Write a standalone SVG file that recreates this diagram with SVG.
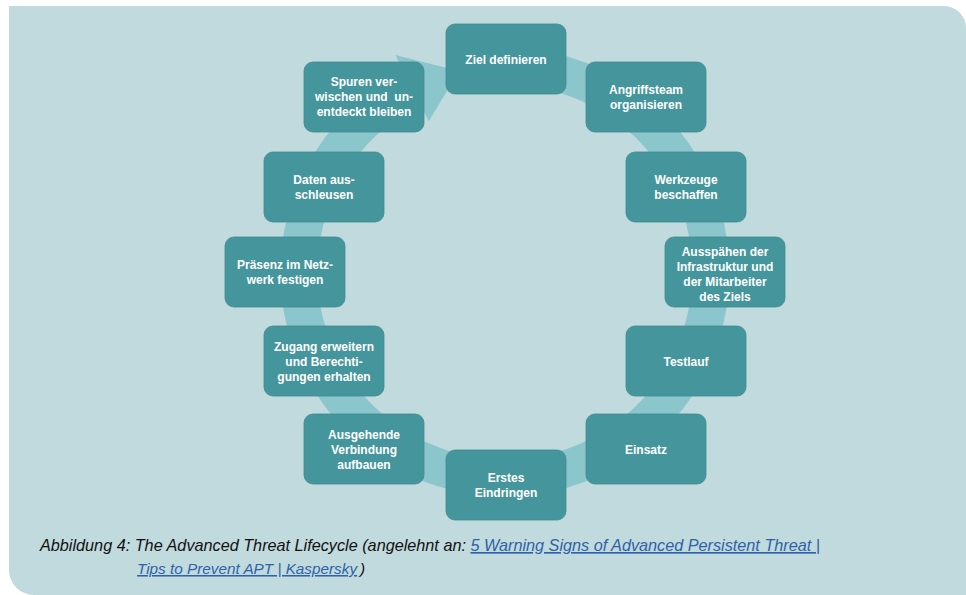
<svg xmlns="http://www.w3.org/2000/svg" width="966" height="595" viewBox="0 0 966 595">
  <defs>
    <style>
      .panel { fill: #c1dadd; }
      .ring { fill: none; stroke: #8cc6cd; stroke-width: 37; }
      .head { fill: #8cc6cd; }
      .box { fill: #45969c; stroke: #3f8a90; stroke-width: 0.8; }
      .lbl { font-family: "Liberation Sans", Arial, sans-serif; font-size: 12px; font-weight: bold; fill: #ffffff; text-anchor: middle; }
      .cap { font-family: "Liberation Sans", Arial, sans-serif; font-size: 16.5px; font-style: italic; fill: #111111; }
      .cap2 { font-size: 15.3px; }
      .link { fill: #2f62a8; text-decoration: underline; }
    </style>
  </defs>

  <!-- background panel -->
  <path class="panel" d="M9,6 H944 A22,22 0 0 1 966,28 V595 H34 A25,25 0 0 1 9,570 Z"/>

  <!-- cycle band with arrowhead -->
  <g id="connectors">
    <path class="ring" d="M487,66.8 A206,206 0 1 1 412.1,88.1"/>
    <polygon class="head" points="395.4,55.1 428.8,121.2 459,71"/>
  </g>

  <g id="n1">
    <rect class="box" x="446" y="24" width="120" height="70" rx="9"/>
    <text class="lbl" x="506" y="63.5">Ziel definieren</text>
  </g>
  <g id="n2">
    <rect class="box" x="586" y="62" width="120" height="70" rx="9"/>
    <text class="lbl" x="646" y="93.5">Angriffsteam</text>
    <text class="lbl" x="646" y="108.5">organisieren</text>
  </g>
  <g id="n3">
    <rect class="box" x="626" y="152" width="120" height="70" rx="9"/>
    <text class="lbl" x="686" y="183.5">Werkzeuge</text>
    <text class="lbl" x="686" y="198.5">beschaffen</text>
  </g>
  <g id="n4">
    <rect class="box" x="665" y="237" width="120" height="70" rx="9"/>
    <text class="lbl" x="725" y="255.5">Ausspähen der</text>
    <text class="lbl" x="725" y="270.5">Infrastruktur und</text>
    <text class="lbl" x="725" y="285.5">der Mitarbeiter</text>
    <text class="lbl" x="725" y="300.5">des Ziels</text>
  </g>
  <g id="n5">
    <rect class="box" x="626" y="326" width="120" height="70" rx="9"/>
    <text class="lbl" x="686" y="365.5">Testlauf</text>
  </g>
  <g id="n6">
    <rect class="box" x="586" y="414" width="120" height="70" rx="9"/>
    <text class="lbl" x="646" y="453.5">Einsatz</text>
  </g>
  <g id="n7">
    <rect class="box" x="446" y="450" width="120" height="70" rx="9"/>
    <text class="lbl" x="506" y="481.5">Erstes</text>
    <text class="lbl" x="506" y="496.5">Eindringen</text>
  </g>
  <g id="n8">
    <rect class="box" x="304" y="414" width="120" height="70" rx="9"/>
    <text class="lbl" x="364" y="438.5">Ausgehende</text>
    <text class="lbl" x="364" y="453.5">Verbindung</text>
    <text class="lbl" x="364" y="468.5">aufbauen</text>
  </g>
  <g id="n9">
    <rect class="box" x="264" y="326" width="120" height="70" rx="9"/>
    <text class="lbl" x="324" y="350.5">Zugang erweitern</text>
    <text class="lbl" x="324" y="365.5">und Berechti-</text>
    <text class="lbl" x="324" y="380.5">gungen erhalten</text>
  </g>
  <g id="n10">
    <rect class="box" x="225" y="237" width="120" height="70" rx="9"/>
    <text class="lbl" x="285" y="268.5">Präsenz im Netz-</text>
    <text class="lbl" x="285" y="283.5">werk festigen</text>
  </g>
  <g id="n11">
    <rect class="box" x="264" y="152" width="120" height="70" rx="9"/>
    <text class="lbl" x="324" y="183.5">Daten aus-</text>
    <text class="lbl" x="324" y="198.5">schleusen</text>
  </g>
  <g id="n12">
    <rect class="box" x="304" y="62" width="120" height="70" rx="9"/>
    <text class="lbl" x="364" y="85.5">Spuren ver-</text>
    <text class="lbl" x="364" y="100.5" xml:space="preserve">wischen und  un-</text>
    <text class="lbl" x="364" y="115.5">entdeckt bleiben</text>
  </g>

  <!-- caption -->
  <g id="caption">
    <text class="cap" x="40" y="551" textLength="780" lengthAdjust="spacingAndGlyphs">Abbildung 4: The Advanced Threat Lifecycle (angelehnt an: <tspan class="link">5 Warning Signs of Advanced Persistent Threat |</tspan></text>
    <text class="cap cap2 link" x="137" y="574">Tips to Prevent APT | Kaspersky</text>
    <text class="cap cap2" x="360" y="574">)</text>
  </g>
</svg>
